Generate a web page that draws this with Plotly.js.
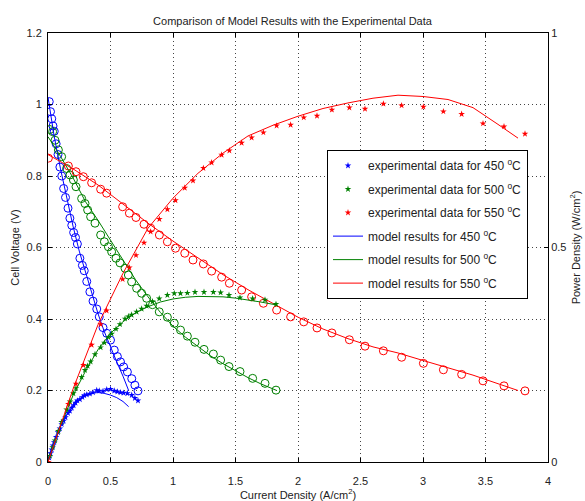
<!DOCTYPE html>
<html>
<head>
<meta charset="utf-8">
<script src="https://cdn.plot.ly/plotly-3.0.1.min.js"></script>
<style>html,body{margin:0;padding:0;background:#fff;}#chart{width:585px;height:501px;}</style>
</head>
<body>
<div id="chart"></div>
<script>
// ---- 450 °C experimental ----
const I450 = [0.01,0.02,0.03,0.04,0.05,0.065,0.08,0.095,0.11,0.125,0.14,0.16,0.175,0.19,0.205,0.22,0.235,0.255,0.275,0.29,0.31,0.335,0.36,0.39,0.41,0.44,0.47,0.5,0.53,0.555,0.58,0.605,0.635,0.67,0.695,0.72];
const V450 = [1.008,0.98,0.96,0.94,0.925,0.89,0.86,0.825,0.8,0.765,0.74,0.71,0.682,0.662,0.642,0.628,0.61,0.57,0.55,0.535,0.505,0.476,0.45,0.428,0.406,0.376,0.36,0.341,0.313,0.295,0.28,0.266,0.252,0.233,0.215,0.199];
const P450 = [0.01,0.02,0.029,0.038,0.046,0.058,0.069,0.078,0.088,0.096,0.104,0.114,0.119,0.126,0.132,0.138,0.143,0.146,0.151,0.155,0.157,0.159,0.162,0.167,0.166,0.165,0.169,0.17,0.166,0.164,0.162,0.161,0.16,0.156,0.149,0.143];
// ---- 500 °C experimental ----
const I500 = [0.015,0.037,0.056,0.083,0.109,0.149,0.176,0.203,0.224,0.269,0.296,0.317,0.341,0.376,0.421,0.451,0.483,0.509,0.544,0.576,0.616,0.643,0.669,0.709,0.749,0.789,0.836,0.89,0.955,1.01,1.06,1.115,1.176,1.248,1.323,1.381,1.448,1.536,1.637,1.736,1.824];
const V500 = [0.93,0.924,0.9,0.873,0.854,0.821,0.803,0.789,0.77,0.737,0.723,0.705,0.686,0.668,0.635,0.616,0.602,0.588,0.57,0.557,0.542,0.523,0.504,0.486,0.472,0.458,0.44,0.42,0.405,0.388,0.369,0.352,0.335,0.315,0.302,0.285,0.267,0.253,0.234,0.22,0.201];
const P500 = [0.014,0.034,0.05,0.072,0.093,0.122,0.141,0.16,0.172,0.198,0.214,0.224,0.234,0.251,0.267,0.278,0.291,0.299,0.31,0.321,0.334,0.339,0.343,0.35,0.357,0.364,0.374,0.381,0.389,0.393,0.393,0.394,0.396,0.396,0.396,0.395,0.389,0.383,0.381,0.378,0.368];
// ---- 550 °C experimental ----
const I550 = [0.003,0.163,0.224,0.283,0.349,0.421,0.469,0.597,0.651,0.704,0.768,0.821,0.891,0.955,1.02,1.094,1.16,1.243,1.309,1.389,1.451,1.549,1.629,1.723,1.829,1.941,2.046,2.152,2.271,2.411,2.536,2.683,2.829,3.003,3.163,3.309,3.48,3.648,3.816];
const V550 = [0.85,0.828,0.812,0.798,0.781,0.763,0.752,0.714,0.696,0.684,0.665,0.654,0.635,0.616,0.598,0.584,0.565,0.554,0.534,0.517,0.5,0.481,0.462,0.444,0.425,0.406,0.392,0.375,0.361,0.342,0.324,0.311,0.293,0.276,0.258,0.245,0.227,0.213,0.199];
const P550 = [0.0,0.135,0.182,0.226,0.273,0.321,0.353,0.426,0.453,0.482,0.511,0.537,0.566,0.589,0.61,0.639,0.656,0.685,0.698,0.716,0.726,0.744,0.756,0.768,0.784,0.786,0.803,0.807,0.821,0.826,0.823,0.835,0.831,0.828,0.817,0.811,0.789,0.782,0.765];
// ---- model results ----
const Im450 = [0,0.05,0.1,0.15,0.2,0.25,0.3,0.35,0.4,0.45,0.5,0.55,0.6,0.645];
const Vm450 = [1.02,0.91,0.82,0.735,0.66,0.59,0.53,0.47,0.415,0.365,0.32,0.28,0.24,0.2];
const Pm450 = [0,0.046,0.082,0.11,0.13,0.145,0.155,0.16,0.162,0.16,0.156,0.15,0.141,0.129];
const Im500 = [0,0.1,0.2,0.3,0.4,0.5,0.6,0.7,0.8,0.9,1.0,1.1,1.2,1.3,1.4,1.5,1.6,1.7,1.83];
const Vm500 = [0.91,0.855,0.795,0.728,0.676,0.622,0.565,0.51,0.462,0.418,0.38,0.349,0.322,0.297,0.275,0.255,0.236,0.219,0.2];
const Pm500 = [0,0.085,0.155,0.212,0.262,0.3,0.327,0.348,0.362,0.373,0.38,0.384,0.386,0.386,0.385,0.382,0.378,0.373,0.366];
const Im550 = [0,0.2,0.4,0.6,0.8,1.0,1.2,1.4,1.6,1.8,2.0,2.2,2.4,2.6,2.8,3.0,3.2,3.4,3.6,3.76];
const Vm550 = [0.86,0.82,0.775,0.722,0.668,0.618,0.57,0.524,0.482,0.443,0.405,0.372,0.345,0.322,0.305,0.284,0.264,0.243,0.219,0.2];
const Pm550 = [0,0.17,0.32,0.44,0.545,0.615,0.673,0.72,0.76,0.785,0.806,0.824,0.837,0.848,0.855,0.852,0.845,0.826,0.787,0.755];

const BLUE = '#0000ff', GREEN = '#008000', RED = '#ff0000';
const labels = {
  e450: 'experimental data for 450 <sup>o</sup>C',
  e500: 'experimental data for 500 <sup>o</sup>C',
  e550: 'experimental data for 550 <sup>o</sup>C',
  m450: 'model results for 450 <sup>o</sup>C',
  m500: 'model results for 500 <sup>o</sup>C',
  m550: 'model results for 550 <sup>o</sup>C'
};

function star(x, y, c, name, g) {
  return {x: x, y: y, yaxis: 'y2', type: 'scatter', mode: 'markers', name: name, legendgroup: g,
    marker: {symbol: 'star', size: 5, color: c, line: {width: 0}}};
}
function circ(x, y, c, g) {
  return {x: x, y: y, type: 'scatter', mode: 'markers', showlegend: false, legendgroup: g,
    marker: {symbol: 'circle-open', size: 8, color: c, line: {width: 1, color: c}}};
}
function line(x, y, c, name, g, ax, show) {
  return {x: x, y: y, yaxis: ax, type: 'scatter', mode: 'lines', name: name, legendgroup: g,
    showlegend: show, line: {color: c, width: 1}};
}

const traces = [
  star(I450, P450, BLUE, labels.e450, 'a'),
  star(I500, P500, GREEN, labels.e500, 'b'),
  star(I550, P550, RED, labels.e550, 'c'),
  line(Im450, Pm450, BLUE, labels.m450, 'd', 'y2', true),
  line(Im500, Pm500, GREEN, labels.m500, 'e', 'y2', true),
  line(Im550, Pm550, RED, labels.m550, 'f', 'y2', true),
  circ(I450, V450, BLUE, 'a'),
  circ(I500, V500, GREEN, 'b'),
  circ(I550, V550, RED, 'c'),
  line(Im450, Vm450, BLUE, labels.m450, 'd', 'y', false),
  line(Im500, Vm500, GREEN, labels.m500, 'e', 'y', false),
  line(Im550, Vm550, RED, labels.m550, 'f', 'y', false)
];

const FONT = 'Liberation Sans, Arial, sans-serif';
const TXT = '#222';
const layout = {
  width: 585, height: 501,
  margin: {l: 48, r: 37, t: 33, b: 39, pad: 0},
  paper_bgcolor: '#ffffff', plot_bgcolor: '#ffffff',
  font: {family: FONT, size: 11, color: TXT},
  title: {text: 'Comparison of Model Results with the Experimental Data', font: {size: 11, family: FONT, color: TXT},
    x: 0.5, xanchor: 'center', y: 1, yref: 'paper', yanchor: 'bottom', pad: {b: 8}},
  showlegend: true,
  legend: {x: 0.558, y: 0.727, xanchor: 'left', yanchor: 'top', bgcolor: '#ffffff',
    bordercolor: '#000', borderwidth: 1, font: {size: 12, family: FONT, color: TXT},
    traceorder: 'grouped', tracegroupgap: 4.5, itemwidth: 30},
  xaxis: {range: [0, 4], dtick: 0.5, tick0: 0, showgrid: true, gridcolor: '#444', griddash: '1px,3px', gridwidth: 1,
    zeroline: false, showline: true, linecolor: '#000', linewidth: 1, mirror: 'ticks', ticks: 'inside', ticklen: 4,
    tickcolor: '#000', ticklabelstandoff: 9, tickfont: {size: 11, family: FONT, color: TXT},
    title: {text: 'Current Density (A/cm<sup>2</sup>)', font: {size: 11, family: FONT, color: TXT}, standoff: 4}},
  yaxis: {range: [0, 1.2], dtick: 0.2, tick0: 0, showgrid: true, gridcolor: '#444', griddash: '1px,3px', gridwidth: 1,
    zeroline: false, showline: true, linecolor: '#000', linewidth: 1, ticks: 'inside', ticklen: 4,
    tickcolor: '#000', ticklabelstandoff: 3, tickfont: {size: 11, family: FONT, color: TXT},
    title: {text: 'Cell Voltage (V)', font: {size: 11, family: FONT, color: TXT}, standoff: 4}},
  yaxis2: {range: [0, 1], tickvals: [0, 0.5, 1], overlaying: 'y', side: 'right', showgrid: false, zeroline: false,
    showline: true, linecolor: '#000', linewidth: 1, ticks: 'inside', ticklen: 4, tickcolor: '#000',
    tickfont: {size: 11, family: FONT, color: TXT},
    title: {text: 'Power Density (W/cm<sup>2</sup>)', font: {size: 11, family: FONT, color: TXT}, standoff: 6}}
};

Plotly.newPlot('chart', traces, layout, {displayModeBar: false, staticPlot: true});
</script>
</body>
</html>
